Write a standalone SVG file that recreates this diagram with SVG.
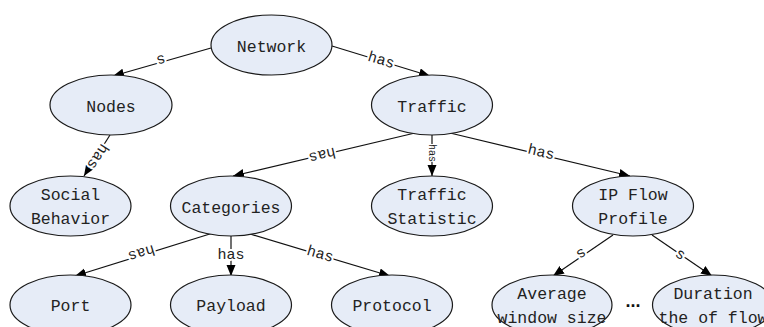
<svg xmlns="http://www.w3.org/2000/svg" width="764" height="327" viewBox="0 0 764 327">
<defs>
<marker id="ah" markerUnits="userSpaceOnUse" markerWidth="12" markerHeight="10" refX="11" refY="4.5" orient="auto">
<path d="M0,0 L11,4.5 L0,9 Z" fill="#000"/>
</marker>
<style>
.n ellipse{fill:#e6ecf7;stroke:#1a1a1a;stroke-width:1.2}
.n text{font-family:"Liberation Mono",monospace;font-size:16.5px;fill:#222;text-anchor:middle}
.e line{stroke:#111;stroke-width:1.2;marker-end:url(#ah)}
.e text{font-family:"Liberation Mono",monospace;font-size:15px;fill:#222;text-anchor:middle;dominant-baseline:central;stroke:#fff;stroke-width:4;paint-order:stroke}
</style>
</defs>
<rect width="764" height="327" fill="#fff"/>
<g id="edges" class="e">
<line x1="211" y1="48" x2="113" y2="76"/>
<text transform="translate(161,59) rotate(164)">s</text>
<line x1="332" y1="46" x2="430" y2="76"/>
<text transform="translate(381,61) rotate(16.5)">has</text>
<line x1="110" y1="135" x2="84" y2="176"/>
<text transform="translate(97,156) rotate(123)">has</text>
<line x1="415" y1="133" x2="233" y2="176"/>
<text transform="translate(322,154) rotate(166.7)">has</text>
<line x1="432" y1="135" x2="432" y2="176"/>
<text transform="translate(432,153) rotate(90)" textLength="18" lengthAdjust="spacingAndGlyphs" style="font-size:11px;stroke-width:2">has</text>
<line x1="450" y1="133" x2="630" y2="176"/>
<text transform="translate(541,153) rotate(13.2)">has</text>
<line x1="213" y1="233" x2="75" y2="276"/>
<text transform="translate(141,252) rotate(163)">has</text>
<line x1="231" y1="236" x2="231" y2="276"/>
<text transform="translate(231,255)">has</text>
<line x1="250" y1="234" x2="390" y2="276"/>
<text transform="translate(320,255) rotate(16.3)">has</text>
<line x1="613" y1="235" x2="553" y2="276"/>
<text transform="translate(581,253) rotate(146.7)">s</text>
<line x1="652" y1="235" x2="712" y2="276"/>
<text transform="translate(680,255) rotate(33.7)">s</text>
</g>
<g id="network" class="n"><ellipse cx="271.5" cy="45" rx="60.5" ry="30"/><text x="271.5" y="51.5">Network</text></g>
<g id="nodes" class="n"><ellipse cx="111" cy="105" rx="61" ry="30"/><text x="111" y="111.5">Nodes</text></g>
<g id="traffic" class="n"><ellipse cx="432" cy="105" rx="60.5" ry="30"/><text x="432" y="111.5">Traffic</text></g>
<g id="social" class="n"><ellipse cx="70.5" cy="206" rx="60.5" ry="30"/><text x="70.5" y="200">Social</text><text x="70.5" y="224">Behavior</text></g>
<g id="categories" class="n"><ellipse cx="231" cy="206" rx="60.5" ry="30"/><text x="231" y="212.5">Categories</text></g>
<g id="trafficstat" class="n"><ellipse cx="432" cy="206" rx="60.5" ry="30"/><text x="432" y="200">Traffic</text><text x="432" y="224">Statistic</text></g>
<g id="ipflow" class="n"><ellipse cx="633" cy="206" rx="60.5" ry="30"/><text x="633" y="200">IP Flow</text><text x="633" y="224">Profile</text></g>
<g id="port" class="n"><ellipse cx="70.5" cy="305" rx="60.5" ry="30"/><text x="70.5" y="311">Port</text></g>
<g id="payload" class="n"><ellipse cx="231" cy="305" rx="60.5" ry="30"/><text x="231" y="311">Payload</text></g>
<g id="protocol" class="n"><ellipse cx="392" cy="305" rx="60.5" ry="30"/><text x="392" y="311">Protocol</text></g>
<g id="average" class="n"><ellipse cx="552" cy="305" rx="60" ry="30"/><text x="552" y="299">Average</text><text x="552" y="323">window size</text></g>
<g id="duration" class="n"><ellipse cx="713" cy="305" rx="60.5" ry="30"/><text x="713" y="299">Duration</text><text x="713" y="323">the of flow</text></g>
<text x="633" y="307" style="font-family:'Liberation Sans',sans-serif;font-size:18px;font-weight:bold;text-anchor:middle;fill:#111">...</text>
</svg>
